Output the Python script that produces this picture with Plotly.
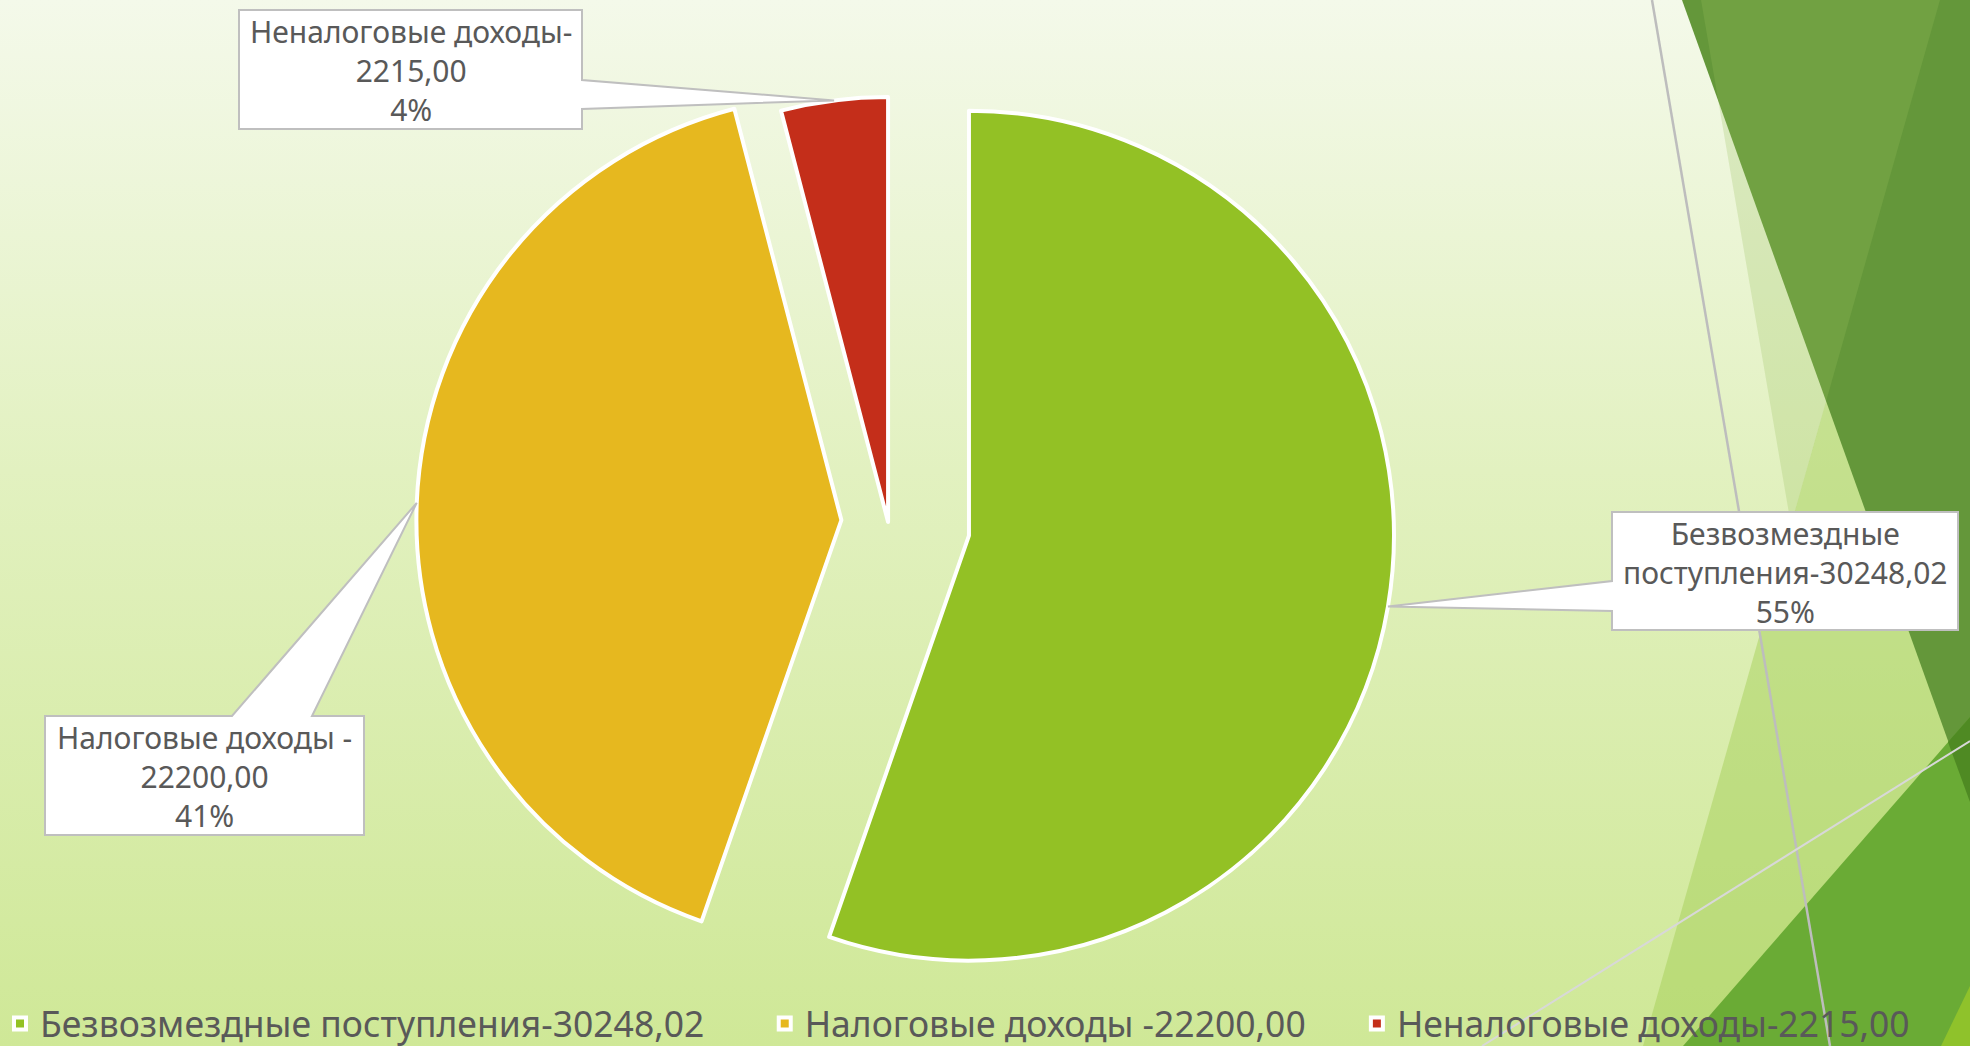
import math
import plotly.graph_objects as go

W, H = 1970, 1046

# ---- data ----
labels = ['Безвозмездные поступления-30248,02',
          'Налоговые доходы -22200,00',
          'Неналоговые доходы-2215,00']
values = [30248.02, 22200.00, 2215.00]
colors = ['#93c125', '#e6b81f', '#c42e1a']
pulls = [0.193, 0.11, 0.0]
callout_lines = [['Безвозмездные', 'поступления-30248,02'],
                 ['Налоговые доходы -', '22200,00'],
                 ['Неналоговые доходы-', '2215,00']]

TEXT = '#595959'
FONT = 'Noto Sans'

# callout boxes in pixels: (x0, y0, x1, y1), side the pointer leaves from, base span
callouts = [
    ((1612, 512, 1958, 630), 'left', (581, 611)),
    ((45, 716, 364, 835), 'top', (232, 312)),
    ((239, 10, 582, 129), 'right', (80, 109)),
]

dom_x = [0.18, 0.7216]
dom_y = [0.0163, 0.9857]


def poly(points, color):
    xs = [p[0] for p in points] + [points[0][0]]
    ys = [p[1] for p in points] + [points[0][1]]
    return go.Scatter(x=xs, y=ys, fill='toself', fillcolor=color, mode='none',
                      hoverinfo='skip', showlegend=False)


def seg(p0, p1, color, width):
    return go.Scatter(x=[p0[0], p1[0]], y=[p0[1], p1[1]], mode='lines',
                      line=dict(color=color, width=width),
                      hoverinfo='skip', showlegend=False)


fig = go.Figure()

# background gradient
fig.add_trace(go.Scatter(
    x=[0, W, W, 0, 0], y=[0, 0, H, H, 0], fill='toself', mode='none',
    fillgradient=dict(type='vertical', start=0, stop=H,
                      colorscale=[[0, '#f4f9ea'], [0.45, '#e2f1c0'], [1, '#cfe897']]),
    hoverinfo='skip', showlegend=False))

# decorative facets on the right
fig.add_trace(poly([(1940, 0), (1970, 0), (1970, H), (1643, H)], 'rgba(160,205,80,0.45)'))
fig.add_trace(poly([(1682, 0), (1970, 0), (1970, 802)], '#64973a'))
fig.add_trace(poly([(1701, 0), (1940, 0), (1791, 525)], 'rgba(150,190,90,0.25)'))
fig.add_trace(poly([(1970, 717), (1683, H), (1970, H)], '#6aab35'))
fig.add_trace(poly([(1948, 742), (1970, 717), (1970, 802)], '#4f8a23'))
fig.add_trace(poly([(1970, 986), (1941, H), (1970, H)], '#8fc22b'))
fig.add_trace(seg((1652, 0), (1830, H), '#bdbdbd', 2.5))
fig.add_trace(seg((1970, 741), (1482, H), '#d8d8d8', 2))

# pie (non-breaking spaces widen the legend gaps)
pads = ['\u00a0' * 6, '\u00a0' * 5, '']
fig.add_trace(go.Pie(
    labels=[l + p for l, p in zip(labels, pads)],
    values=values, pull=pulls, sort=False, direction='clockwise', rotation=0,
    marker=dict(colors=colors, line=dict(color='white', width=4)),
    textinfo='none', domain=dict(x=dom_x, y=dom_y), hoverinfo='label+percent'))

# callouts, pointing at the middle of each slice's arc
R = min(W * (dom_x[1] - dom_x[0]), H * (dom_y[1] - dom_y[0])) / 2 / (1 + max(pulls))
cx = W * (dom_x[0] + dom_x[1]) / 2
cy = H * (1 - (dom_y[0] + dom_y[1]) / 2)
total = sum(values)
cum = 0
shapes = []
annotations = []
for v, p, lines, (box, side, base) in zip(values, pulls, callout_lines, callouts):
    frac = v / total
    th = 2 * math.pi * (cum + frac / 2)
    cum += frac
    tx = cx + (1 + p) * R * math.sin(th)
    ty = cy - (1 + p) * R * math.cos(th)
    x0, y0, x1, y1 = box
    if side == 'left':
        pts = [(x0, y0), (x1, y0), (x1, y1), (x0, y1), (x0, base[1]), (tx, ty), (x0, base[0])]
    elif side == 'top':
        pts = [(x0, y0), (base[0], y0), (tx, ty), (base[1], y0), (x1, y0), (x1, y1), (x0, y1)]
    else:
        pts = [(x0, y0), (x1, y0), (x1, base[0]), (tx, ty), (x1, base[1]), (x1, y1), (x0, y1)]
    path = 'M' + 'L'.join(f'{a:.1f},{b:.1f}' for a, b in pts) + 'Z'
    shapes.append(dict(type='path', path=path, xref='x', yref='y', layer='above',
                       fillcolor='white', line=dict(color='#bfbfbf', width=2)))
    text = '<br>'.join(lines + [f'{round(frac * 100)}%'])
    annotations.append(dict(
        x=(x0 + x1) / 2, y=(y0 + y1) / 2 + 1, xref='x', yref='y',
        text=text, showarrow=False, align='center',
        font=dict(family=FONT, size=30, color=TEXT)))

fig.update_layout(
    width=W, height=H,
    margin=dict(l=0, r=0, t=0, b=0, autoexpand=False),
    paper_bgcolor='#e3f1c3', plot_bgcolor='rgba(0,0,0,0)',
    xaxis=dict(range=[0, W], visible=False, fixedrange=True),
    yaxis=dict(range=[H, 0], visible=False, fixedrange=True),
    shapes=shapes, annotations=annotations,
    showlegend=True,
    legend=dict(orientation='h', x=0, xanchor='left', y=0.021, yanchor='middle',
                font=dict(family=FONT, size=35.5, color=TEXT), bgcolor='rgba(0,0,0,0)'),
)

fig.write_html('out.html', config={'displayModeBar': False},
               post_script="document.body.style.margin='0px';")
